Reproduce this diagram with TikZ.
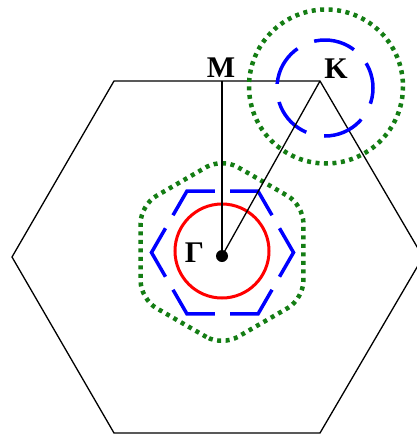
\documentclass[tikz,border=0pt]{standalone}
\usepackage{fontspec}
\setmainfont{Liberation Serif}
\usetikzlibrary{calc}
\definecolor{dgreen}{RGB}{20,125,20}
\begin{document}
\begin{tikzpicture}[x=1pt,y=-1pt,
  bz/.style={line width=1.3pt,black,line join=miter},
  dots/.style={dgreen,line width=4.5pt,dash pattern=on 4pt off 4.5pt},
  bdash/.style={blue,line width=3.5pt,line join=miter},
  lbl/.style={font=\fontsize{30}{30}\selectfont\bfseries,inner sep=0pt}]
\useasboundingbox (0,0) rectangle (417,437);
\begin{scope}
  \clip (0,0) rectangle (417,437);
  \draw[bz] (114,81) -- (320,81) -- (423,257) -- (320,433) -- (114,433) -- (12,257) -- cycle;
\end{scope}
% green rounded hexagon around Gamma
\begin{scope}[shift={(222,252)}]
  \draw[dots,rounded corners=18pt] (90:94) -- (150:94) -- (210:94) -- (270:94) -- (330:94) -- (30:94) -- cycle;
\end{scope}
% blue dashed hexagon around Gamma
\begin{scope}[shift={(222.5,252.5)}]
  \foreach \a in {0,60,...,300}{
    \draw[bdash] ($(\a-60:71)!0.606!(\a:71)$) -- (\a:71) -- ($(\a:71)!0.394!(\a+60:71)$);
  }
\end{scope}
% red circle
\draw[red,line width=3pt] (222,251) circle[radius=47];
% circles at K
\draw[dots] (326,86.5) circle[radius=77];
\draw[blue,line width=3.5pt,dash pattern=on 42pt off 18.3pt,dash phase=26pt] (325,88) circle[radius=48];
% points and connectors
\node[circle,fill=black,inner sep=0pt,minimum size=12pt] (G) at (222,256) {};
\coordinate (M) at (222,81);
\coordinate (K) at (320,81);
\draw[bz] (G.center) -- (M);
\draw[bz] (G.center) -- (K);
% labels
\node[lbl] (Ml) at (221,68) {M};
\node[lbl] (Kl) at (336,68.5) {K};
\node[lbl] (Gl) at (194.5,253) {Γ};
\end{tikzpicture}
\end{document}
